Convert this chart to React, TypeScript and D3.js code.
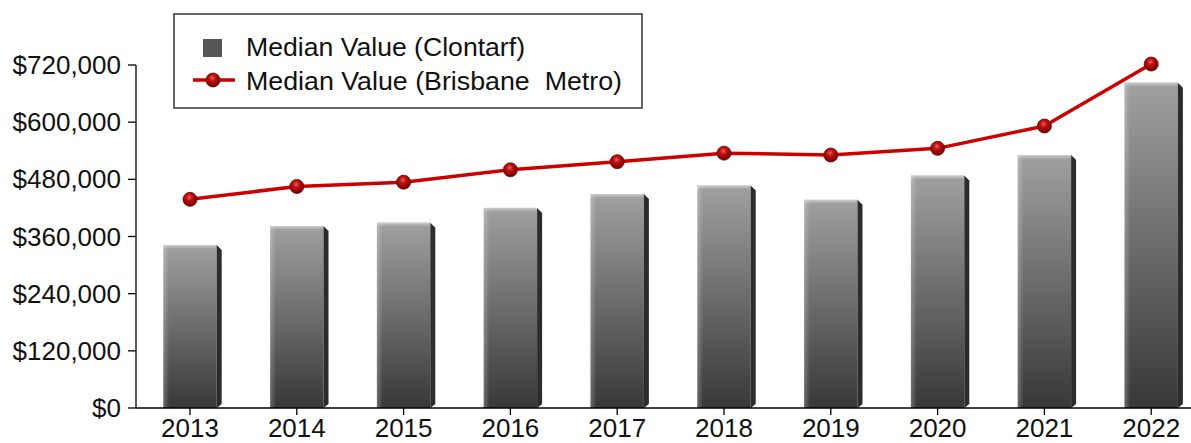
import React from "react";
import * as d3 from "d3";

const years = ["2013", "2014", "2015", "2016", "2017", "2018", "2019", "2020", "2021", "2022"];
const clontarfValues = [342000, 382000, 389000, 420000, 449000, 467000, 437000, 488000, 531000, 683000];
const brisbaneValues = [438000, 465000, 474000, 500000, 517000, 535000, 531000, 545000, 592000, 722000];
const yTicks = [0, 120000, 240000, 360000, 480000, 600000, 720000];
const seriesNames = ["Median Value (Clontarf)", "Median Value (Brisbane\u00a0 Metro)"];

const W = 1191;
const H = 443;
const FONT = "'Liberation Sans', Arial, sans-serif";

export default function App() {
  const x = d3
    .scaleBand<string>()
    .domain(years)
    .range([136.6, 1204.6])
    .paddingInner(0.5)
    .paddingOuter(0.25);
  const y = d3.scaleLinear().domain([0, 720000]).range([408, 65]);
  const bw = x.bandwidth();
  const cx = (yr: string) => (x(yr) as number) + bw / 2;
  const fmt = (v: number) => "$" + d3.format(",")(v);
  const line = d3
    .line<number>()
    .x((_, i) => cx(years[i]))
    .y((v) => y(v));
  const y0 = y(0);
  const axisX = 136;

  return (
    <svg
      width={W}
      height={H}
      style={{ position: "absolute", left: 0, top: 0, background: "#fff" }}
      fontFamily={FONT}
    >
      <defs>
        <linearGradient id="barFront" x1="0" y1="0" x2="0" y2="1">
          <stop offset="0%" stopColor="#a0a0a0" />
          <stop offset="100%" stopColor="#383838" />
        </linearGradient>
        <linearGradient id="barLeft" x1="0" y1="0" x2="1" y2="0">
          <stop offset="0%" stopColor="#ffffff" stopOpacity="0.25" />
          <stop offset="100%" stopColor="#ffffff" stopOpacity="0" />
        </linearGradient>
        <linearGradient id="barTop" x1="0" y1="0" x2="0" y2="1">
          <stop offset="0%" stopColor="#ffffff" stopOpacity="0.45" />
          <stop offset="100%" stopColor="#ffffff" stopOpacity="0" />
        </linearGradient>
        <radialGradient id="marker" cx="0.45" cy="0.35" r="0.65">
          <stop offset="0%" stopColor="#ea6060" />
          <stop offset="35%" stopColor="#c01010" />
          <stop offset="100%" stopColor="#700000" />
        </radialGradient>
      </defs>

      {/* bars */}
      {years.map((yr, i) => {
        const bx = x(yr) as number;
        const top = y(clontarfValues[i]);
        const h = y0 - top;
        const xr = bx + bw;
        return (
          <g key={yr}>
            <rect x={bx} y={top} width={bw} height={h} fill="url(#barFront)" />
            <rect x={bx} y={top} width={6} height={h} fill="url(#barLeft)" />
            <rect x={bx} y={top} width={bw} height={4} fill="url(#barTop)" />
            <line x1={bx} x2={xr} y1={top + 0.5} y2={top + 0.5} stroke="#c8c8c8" strokeWidth={1} opacity={0.7} />
            <polygon
              points={`${xr},${top} ${xr + 5},${top + 5} ${xr + 5},${y0 - 4} ${xr},${y0}`}
              fill="#2c2c2c"
            />
          </g>
        );
      })}

      {/* axes */}
      <line x1={axisX} x2={axisX} y1={y(720000)} y2={y0} stroke="#000" strokeWidth={1.3} />
      <line x1={axisX} x2={W} y1={y0} y2={y0} stroke="#000" strokeWidth={1.3} />
      {yTicks.map((t) => (
        <g key={t}>
          <line x1={axisX - 8} x2={axisX} y1={y(t)} y2={y(t)} stroke="#000" strokeWidth={1.3} />
          <text
            x={121}
            y={y(t)}
            textAnchor="end"
            dominantBaseline="central"
            fontSize={26}
            fill="#111"
          >
            {fmt(t)}
          </text>
        </g>
      ))}
      {years.map((yr) => (
        <g key={yr}>
          <line x1={cx(yr)} x2={cx(yr)} y1={y0} y2={y0 + 7} stroke="#000" strokeWidth={1.3} />
          <text x={cx(yr)} y={437} textAnchor="middle" fontSize={26} fill="#111">
            {yr}
          </text>
        </g>
      ))}

      {/* line series */}
      <path d={line(brisbaneValues) || ""} fill="none" stroke="#cc0000" strokeWidth={3.5} strokeLinejoin="round" />
      {brisbaneValues.map((v, i) => (
        <circle key={i} cx={cx(years[i])} cy={y(v)} r={7} fill="url(#marker)" stroke="#6a0000" strokeWidth={0.8} />
      ))}

      {/* legend */}
      <rect x={174} y={14} width={468} height={94} fill="#fff" stroke="#333" strokeWidth={1.5} />
      <rect x={203} y={39} width={19} height={18} fill="#555" />
      <text x={246} y={56} fontSize={25} fill="#111" textLength={279} lengthAdjust="spacingAndGlyphs">
        {seriesNames[0]}
      </text>
      <line x1={193} x2={235} y1={80} y2={80} stroke="#cc0000" strokeWidth={3.5} />
      <circle cx={213} cy={80} r={7} fill="url(#marker)" stroke="#6a0000" strokeWidth={0.8} />
      <text x={246} y={90} fontSize={25} fill="#111" textLength={376} lengthAdjust="spacingAndGlyphs">
        {seriesNames[1]}
      </text>
    </svg>
  );
}
